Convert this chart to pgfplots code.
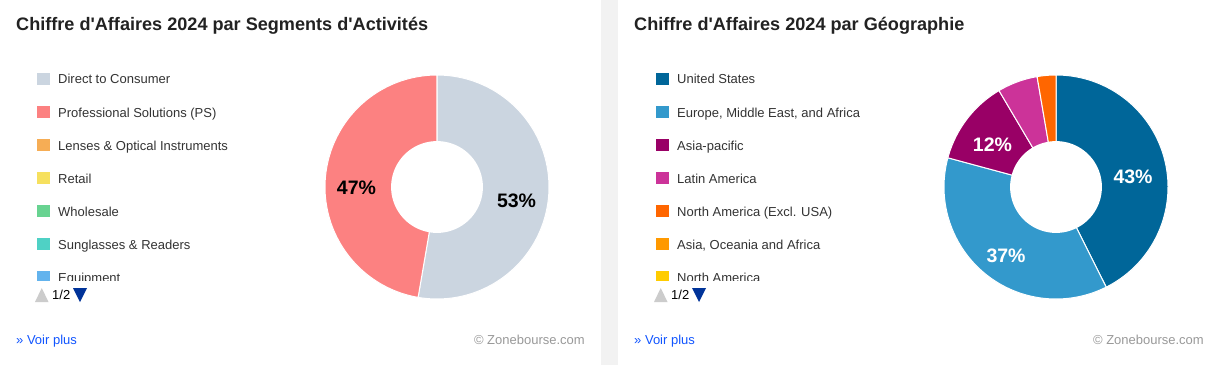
\documentclass[border=0pt]{standalone}
\usepackage{pgfplots}
\pgfplotsset{compat=1.18}
\usepackage{fontspec}
\setmainfont{Liberation Sans}[Ligatures=TeXOff]
\definecolor{dtc}{HTML}{CBD5E0}
\definecolor{ps}{HTML}{FC8181}
\definecolor{lens}{HTML}{F6AD55}
\definecolor{retail}{HTML}{F6E05E}
\definecolor{whole}{HTML}{68D391}
\definecolor{sung}{HTML}{4FD1C5}
\definecolor{equip}{HTML}{63B3ED}
\definecolor{us}{HTML}{006699}
\definecolor{emea}{HTML}{3399CC}
\definecolor{apac}{HTML}{990066}
\definecolor{latam}{HTML}{CC3399}
\definecolor{naex}{HTML}{FF6600}
\definecolor{aoa}{HTML}{FF9900}
\definecolor{na}{HTML}{FFCC00}
\definecolor{titlec}{HTML}{222222}
\definecolor{txt}{HTML}{333333}
\definecolor{strip}{HTML}{F2F2F2}
\definecolor{navgrey}{HTML}{CCCCCC}
\definecolor{navblue}{HTML}{003399}
\definecolor{linkc}{HTML}{1155FF}
\definecolor{copyc}{HTML}{999999}
% slice: start %, end %, colour
\newcommand{\slice}[3]{%
  \addplot[fill=#3, draw=white, line width=1pt, domain={3.6*#1}:{3.6*#2}, samples=90, variable=\t]
    ({sin(\t)},{cos(\t)}) -- (axis cs:0,0) -- cycle;}
\newcommand{\hole}{%
  \addplot[fill=white, draw=none, domain=0:360, samples=120, variable=\t]
    ({0.41*sin(\t)},{0.41*cos(\t)}) -- cycle;}
\pgfplotsset{donut/.style={hide axis, scale only axis, width=224pt, height=224pt,
  xmin=-1, xmax=1, ymin=-1, ymax=1, clip=false, anchor=south west}}
\begin{document}
\begin{tikzpicture}[x=1pt,y=1pt]
\path[use as bounding box, fill=white] (0,0) rectangle (1212,365);
\fill[strip] (601,0) rectangle (618,365);
% ---------- left panel ----------
\node[anchor=base west, inner sep=0pt, font=\fontsize{18.1}{21}\selectfont\bfseries, text=titlec] at (16,334) {Chiffre d'Affaires 2024 par Segments d'Activités};
\begin{axis}[donut, at={(325pt,66pt)}]
  % Direct to Consumer 52.7 %, Professional Solutions 47.3 %
  \slice{0}{52.7}{dtc}
  \slice{52.7}{100}{ps}
  \hole
  \node[font=\fontsize{19.5}{22}\selectfont\bfseries, text=black] at (axis cs:0.710,-0.121) {53\%};
  \node[font=\fontsize{19.5}{22}\selectfont\bfseries, text=black] at (axis cs:-0.719,-0.004) {47\%};
\end{axis}
\begin{scope}
\clip (0,84.5) rectangle (600,300);
\foreach \i/\c/\t in {0/dtc/Direct to Consumer, 1/ps/Professional Solutions (PS), 2/lens/Lenses \& Optical Instruments, 3/retail/Retail, 4/whole/Wholesale, 5/sung/Sunglasses \& Readers, 6/equip/Equipment}{
  \fill[\c] (37,292-\i*33) rectangle (50,280-\i*33);
  \node[anchor=base west, inner sep=0pt, font=\fontsize{13}{15}\selectfont, text=txt] at (58,281-\i*33) {\t};
}
\end{scope}
\fill[navgrey] (35,63) -- (48.5,63) -- (41.75,77) -- cycle;
\node[anchor=base west, inner sep=0pt, font=\fontsize{13}{15}\selectfont, text=black] at (52,66) {1/2};
\fill[navblue] (73,77) -- (87,77) -- (80,63) -- cycle;
\node[anchor=base west, inner sep=0pt, font=\fontsize{13}{15}\selectfont, text=linkc] at (16,21) {» Voir plus};
\node[anchor=base east, inner sep=0pt, font=\fontsize{13}{15}\selectfont, text=copyc] at (585,21) {© Zonebourse.com};
% ---------- right panel ----------
\node[anchor=base west, inner sep=0pt, font=\fontsize{18.1}{21}\selectfont\bfseries, text=titlec] at (634,334) {Chiffre d'Affaires 2024 par Géographie};
\begin{axis}[donut, at={(944pt,66pt)}]
  % US 42.6, EMEA 36.6, Asia-pacific 12.3, Latin America 5.8, North America (Excl. USA) 2.7
  \slice{0}{42.6}{us}
  \slice{42.6}{79.2}{emea}
  \slice{79.2}{91.5}{apac}
  \slice{91.5}{97.3}{latam}
  \slice{97.3}{100}{naex}
  \hole
  \node[font=\fontsize{19.5}{22}\selectfont\bfseries, text=white] at (axis cs:0.6875,0.094) {43\%};
  \node[font=\fontsize{19.5}{22}\selectfont\bfseries, text=white] at (axis cs:-0.446,-0.612) {37\%};
  \node[font=\fontsize{19.5}{22}\selectfont\bfseries, text=white] at (axis cs:-0.567,0.379) {12\%};
\end{axis}
\begin{scope}
\clip (619,84.5) rectangle (1212,300);
\foreach \i/\c/\t in {0/us/United States, 1/emea/{Europe, Middle East, and Africa}, 2/apac/Asia-pacific, 3/latam/Latin America, 4/naex/North America (Excl. USA), 5/aoa/{Asia, Oceania and Africa}, 6/na/North America}{
  \fill[\c] (656,292-\i*33) rectangle (669,280-\i*33);
  \node[anchor=base west, inner sep=0pt, font=\fontsize{13}{15}\selectfont, text=txt] at (677,281-\i*33) {\t};
}
\end{scope}
\fill[navgrey] (654,63) -- (667.5,63) -- (660.75,77) -- cycle;
\node[anchor=base west, inner sep=0pt, font=\fontsize{13}{15}\selectfont, text=black] at (671,66) {1/2};
\fill[navblue] (692,77) -- (706,77) -- (699,63) -- cycle;
\node[anchor=base west, inner sep=0pt, font=\fontsize{13}{15}\selectfont, text=linkc] at (634,21) {» Voir plus};
\node[anchor=base east, inner sep=0pt, font=\fontsize{13}{15}\selectfont, text=copyc] at (1204,21) {© Zonebourse.com};
\end{tikzpicture}
\end{document}
